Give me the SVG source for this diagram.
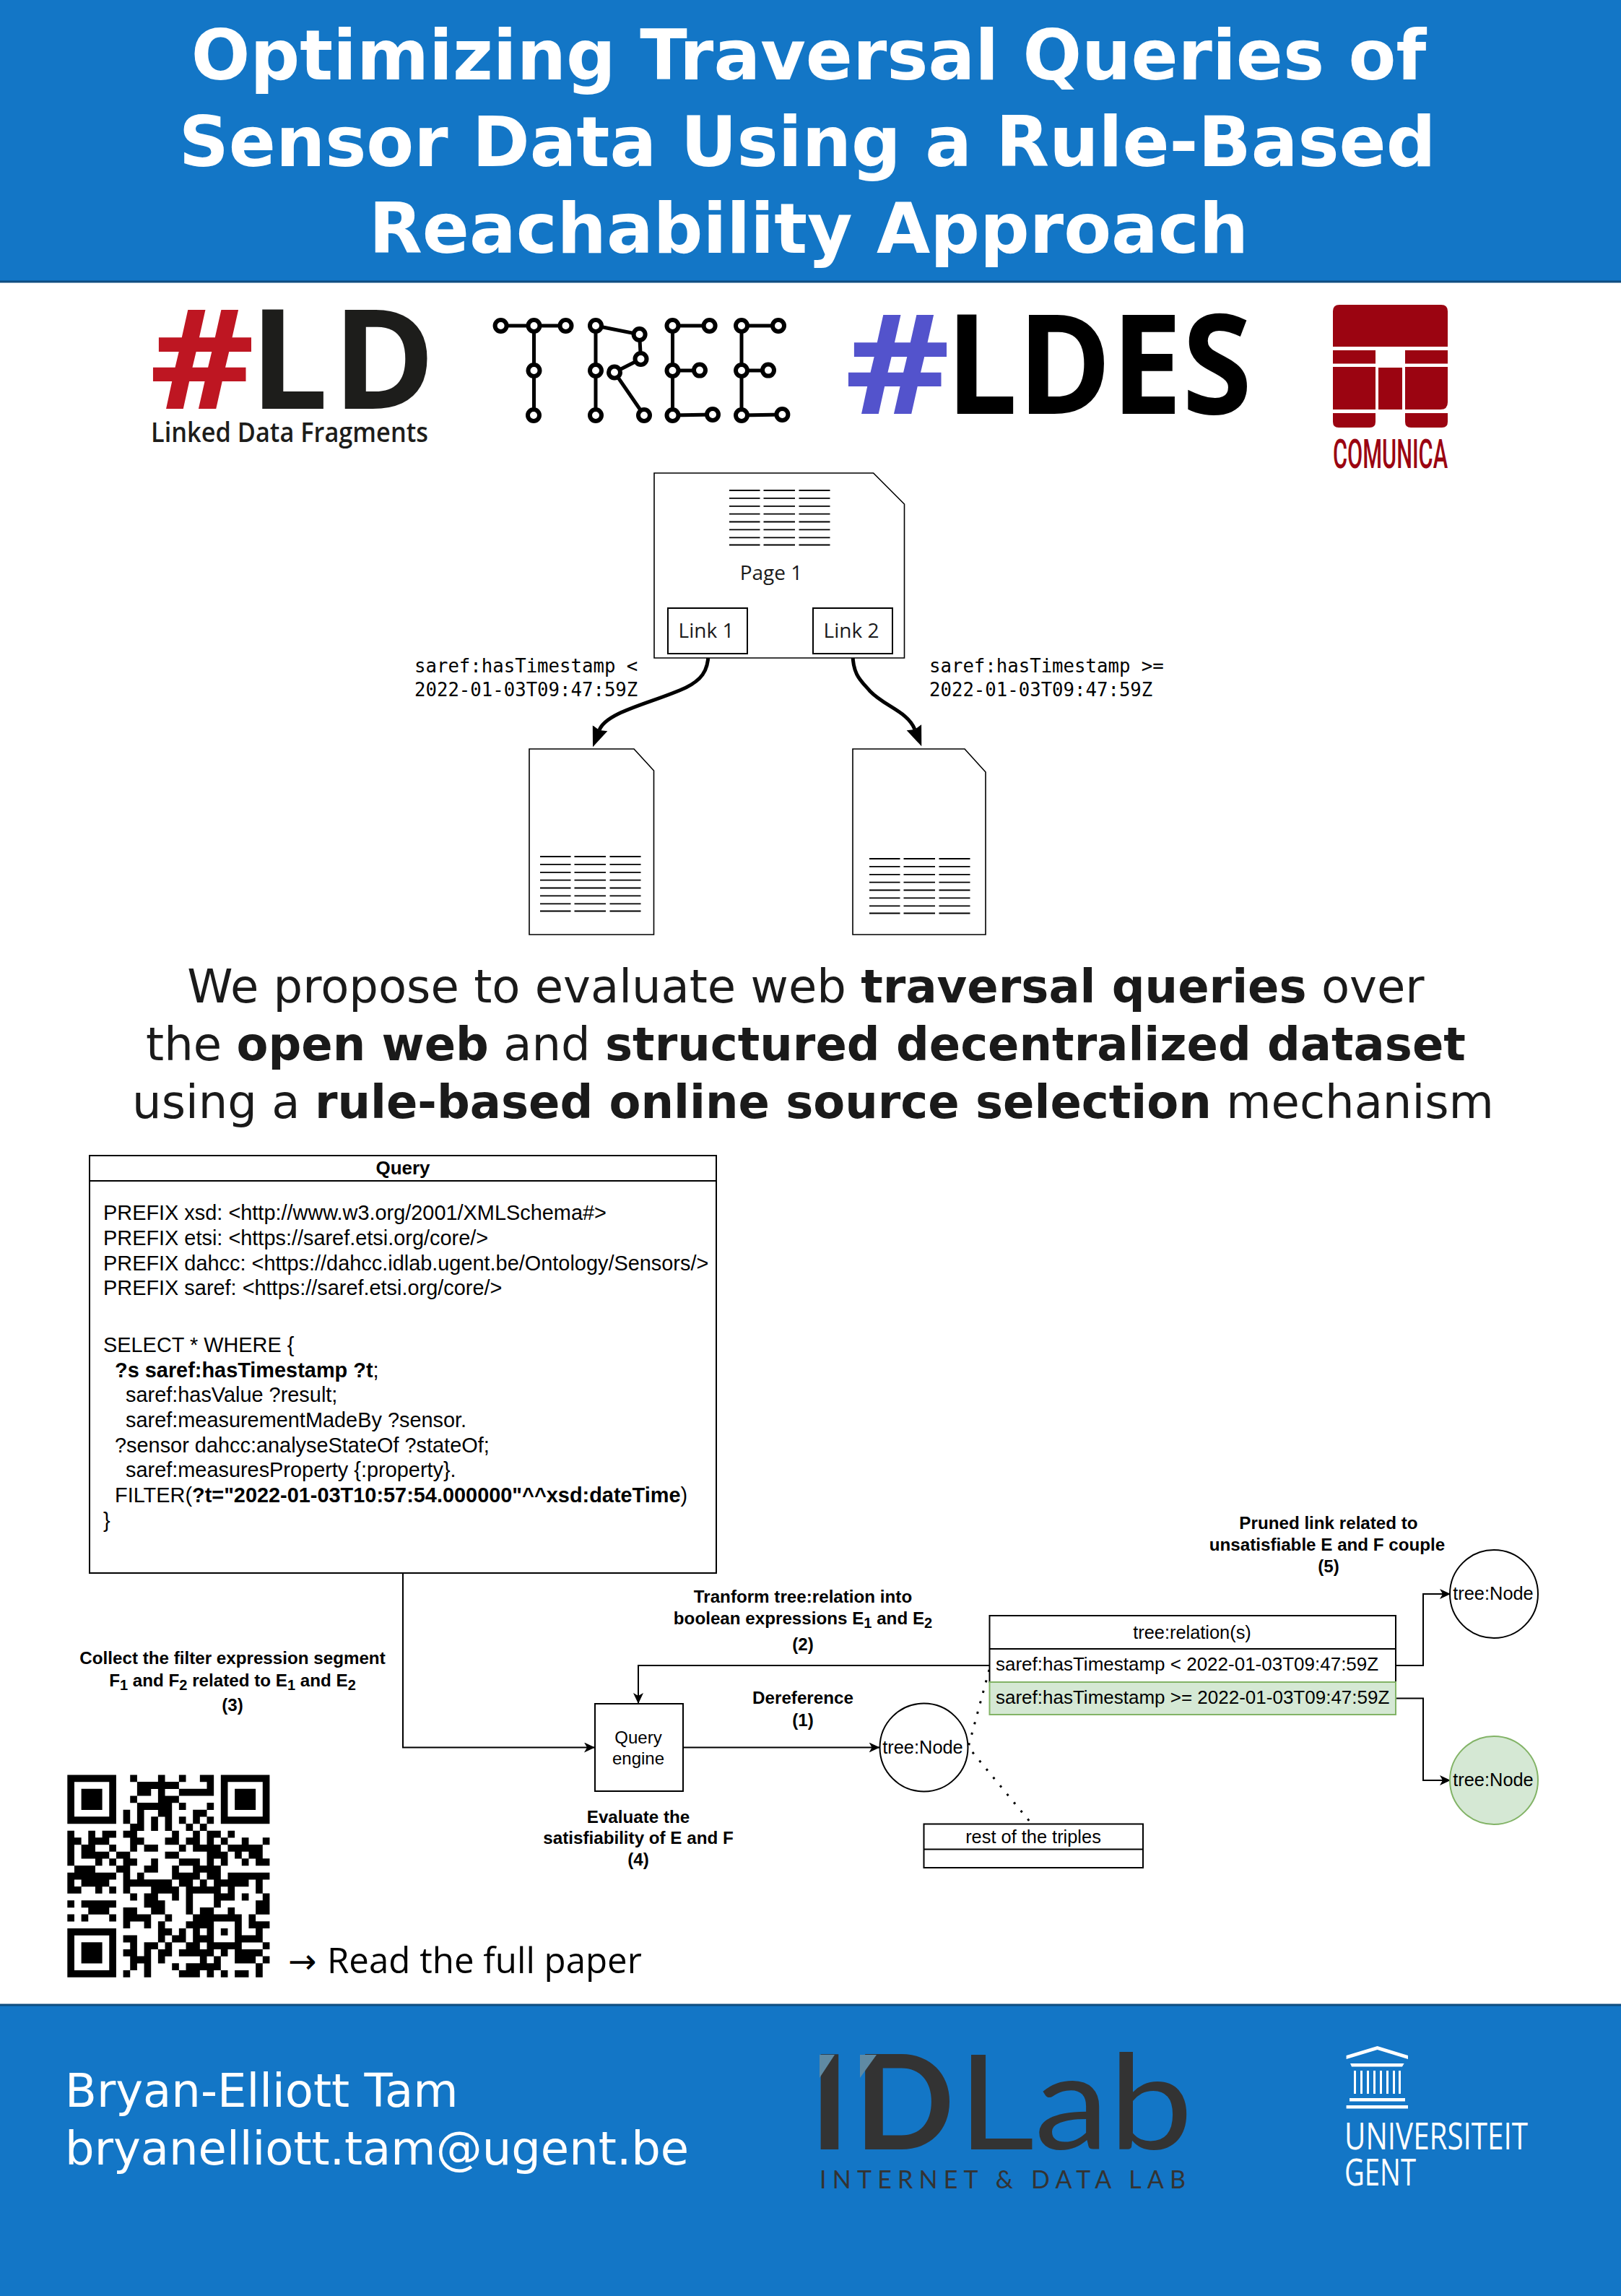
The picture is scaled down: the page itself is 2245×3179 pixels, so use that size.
<svg xmlns="http://www.w3.org/2000/svg" width="2245" height="3179" viewBox="0 0 2245 3179">
<style>
.band{fill:#1376c6;stroke:#0f4d80;stroke-width:3}
.title{font:bold 96px "DejaVu Sans",sans-serif;fill:#fff;text-anchor:middle}
.lead{font:64px "DejaVu Sans",sans-serif;fill:#1a1a1a;text-anchor:middle}
.lead tspan{font-weight:bold}
.foot{font:64px "DejaVu Sans",sans-serif;fill:#fff}
.doc{fill:#fff;stroke:#000;stroke-width:1.600}
.rule{stroke:#000;stroke-width:1.800;fill:none}
.os{font:28px "Open Sans",sans-serif;fill:#1a1a1a}
.mono{font:25.7px "DejaVu Sans Mono",monospace;fill:#000}
.s{font:28.900px "Liberation Sans",sans-serif;fill:#000}
.lab{font:bold 24.200px "Liberation Sans",sans-serif;fill:#000;text-anchor:middle}
.n{font:25.400px "Liberation Sans",sans-serif;fill:#000;text-anchor:middle}
.box{fill:#fff;stroke:#000;stroke-width:2}
.green{fill:#d5e8d4;stroke:#82b366;stroke-width:2}
.edge{fill:none;stroke:#000;stroke-width:2}
.thick{fill:none;stroke:#000;stroke-width:5}
.tree{fill:none;stroke:#000;stroke-width:5}
.ub{font:700 192px "Open Sans",sans-serif;fill:#1d1d1b}
.cm{fill:#9b0411}
</style>
<defs>
<marker id="a" markerUnits="userSpaceOnUse" markerWidth="15" markerHeight="14" refX="15" refY="7" orient="auto"><path d="M0 0L15 7L0 14L4 7Z" fill="#000"/></marker>
<marker id="b" markerUnits="userSpaceOnUse" markerWidth="30" markerHeight="24" refX="3" refY="12" orient="auto"><path d="M0 1L28 12L0 23L3 12Z" fill="#000"/></marker>
<path id="ls" d="M0 0h42.500M47.500 0h43.500M96.500 0h43M0 10.900h42.500M47.500 10.900h43.500M96.500 10.900h43M0 21.800h42.500M47.500 21.800h43.500M96.500 21.800h43M0 32.700h42.500M47.500 32.700h43.500M96.500 32.700h43M0 43.500h42.500M47.500 43.500h43.500M96.500 43.500h43M0 54.400h42.500M47.500 54.400h43.500M96.500 54.400h43M0 65.300h42.500M47.500 65.300h43.500M96.500 65.300h43M0 75.500h42.500M47.500 75.500h43.500M96.500 75.500h43" class="rule"/>
</defs>
<rect width="2245" height="3179" fill="#fff"/>

<g id="header">
<rect class="band" x="-3" y="-3" width="2251" height="393"/>
<text class="title" x="1120" y="110">Optimizing Traversal Queries of</text>
<text class="title" x="1118" y="230">Sensor Data Using a Rule-Based</text>
<text class="title" x="1120" y="350">Reachability Approach</text>
</g>

<g id="logo-ld">
<text x="207" y="566" class="ub" style="fill:#be1622" textLength="146" lengthAdjust="spacingAndGlyphs">#</text>
<text x="346" y="566" class="ub" letter-spacing="6">LD</text>
<text x="209" y="612" font-family="Open Sans" font-weight="600" font-size="37" fill="#1d1d1b" textLength="384" lengthAdjust="spacingAndGlyphs">Linked Data Fragments</text>
</g>

<g id="logo-tree">
<path class="tree" d="M693.600 451H783.500M739.500 451V575M825 451V575M825 451L885.600 463L887.500 497L851 515.500L892 575M931.500 451H982.600M931.500 513H969M931.500 575L987 574M931.500 451V575M1027 451H1078M1027 513H1064M1027 575L1083.400 574M1027 451V575"/>
<g fill="#fff" stroke="#000" stroke-width="6">
<circle cx="693.600" cy="451" r="8"/><circle cx="739.500" cy="451" r="8"/><circle cx="783.500" cy="451" r="8"/><circle cx="739.500" cy="513" r="8"/><circle cx="739" cy="575" r="8"/>
<circle cx="825" cy="451" r="8"/><circle cx="885.600" cy="463" r="8"/><circle cx="887.500" cy="497" r="8"/><circle cx="851" cy="515.500" r="8"/><circle cx="825" cy="513" r="8"/><circle cx="825" cy="575" r="8"/><circle cx="892" cy="575" r="8"/>
<circle cx="931.500" cy="451" r="8"/><circle cx="982.600" cy="451" r="8"/><circle cx="931.500" cy="513" r="8"/><circle cx="969" cy="512.600" r="8"/><circle cx="931.500" cy="575" r="8"/><circle cx="987" cy="574" r="8"/>
<circle cx="1027" cy="451" r="8"/><circle cx="1078" cy="451" r="8"/><circle cx="1027" cy="513" r="8"/><circle cx="1064" cy="512.600" r="8"/><circle cx="1027" cy="575" r="8"/><circle cx="1083.400" cy="574" r="8"/>
</g>
</g>

<g id="logo-ldes">
<text x="1170" y="573" class="ub" style="fill:#5353cc" textLength="146" lengthAdjust="spacingAndGlyphs">#</text>
<text x="1310" y="573" class="ub" style="fill:#000" textLength="424" lengthAdjust="spacingAndGlyphs">LDES</text>
</g>

<g id="logo-comunica">
<path class="cm" d="M1846 480V431q0-9 9-9H1996q9 0 9 9V480ZM1846 485H1905V503.500H1846ZM1946 485H2005V503.500H1946ZM1846 508H1905V567H1846ZM1909 509H1942V567H1909ZM1946 508H2005V557q0 10-10 10H1946ZM1846 572H1905V584q0 8-8 8H1854q-8 0-8-8ZM1946 572H2005V584q0 8-8 8H1954q-8 0-8-8Z"/>
<text x="1846" y="648" font-family="Roboto" font-weight="500" font-size="55" fill="#9b0411" textLength="159" lengthAdjust="spacingAndGlyphs">COMUNICA</text>
</g>

<g id="connectors-top">
<path class="thick" d="M981 905C981 930 970 942 950 952C905 973 840 985 830 1011" marker-end="url(#b)"/>
<path class="thick" d="M1181 905C1181 935 1193 943 1205 957C1225 978 1257 985 1267 1010" marker-end="url(#b)"/>
</g>

<g id="page1">
<path class="doc" d="M906 655H1209.600L1252.500 698V911H906Z"/>
<use href="#ls" x="1010" y="679"/>
<text class="os" x="1068" y="803" text-anchor="middle">Page 1</text>
<rect class="box" x="925" y="842" width="110" height="63"/>
<text class="os" x="978" y="883" text-anchor="middle">Link 1</text>
<rect class="box" x="1126" y="842" width="110" height="63"/>
<text class="os" x="1179" y="883" text-anchor="middle">Link 2</text>
</g>
<g id="page-left">
<path class="doc" d="M733 1037H878L905.500 1067V1294H733Z"/>
<use href="#ls" x="748" y="1186"/>
</g>
<g id="page-right">
<path class="doc" d="M1181 1037H1336L1365 1069V1294H1181Z"/>
<use href="#ls" x="1204" y="1189"/>
</g>
<g id="link-labels">
<text class="mono" x="574" y="931">saref:hasTimestamp &lt;</text>
<text class="mono" x="574" y="964">2022-01-03T09:47:59Z</text>
<text class="mono" x="1287" y="931">saref:hasTimestamp &gt;=</text>
<text class="mono" x="1287" y="964">2022-01-03T09:47:59Z</text>
</g>

<g id="lead">
<text class="lead" x="1116" y="1388">We propose to evaluate web <tspan>traversal queries</tspan> over</text>
<text class="lead" x="1116" y="1468">the <tspan>open web</tspan> and <tspan>structured decentralized dataset</tspan></text>
<text class="lead" x="1126" y="1548">using a <tspan>rule-based online source selection</tspan> mechanism</text>
</g>

<g id="connectors">
<path class="edge" d="M558 2178V2419.500H824" marker-end="url(#a)"/>
<path class="edge" d="M946 2419.500H1218.500" marker-end="url(#a)"/>
<path class="edge" d="M1370.500 2306H884V2359" marker-end="url(#a)"/>
<path class="edge" d="M1933 2306H1971V2207H2009" marker-end="url(#a)"/>
<path class="edge" d="M1933 2351.500H1971V2465H2009" marker-end="url(#a)"/>
<path d="M1370 2312L1341 2419L1428.600 2525" fill="none" stroke="#000" stroke-width="3" stroke-dasharray="3 12"/>
</g>

<g id="query">
<rect class="box" x="124" y="1600" width="868" height="578"/>
<path class="rule" d="M124 1635H992"/>
<text x="558" y="1626" font-family="Liberation Sans" font-weight="700" font-size="26" text-anchor="middle">Query</text>
<text class="s" x="143" y="1689">PREFIX xsd: &lt;http://www.w3.org/2001/XMLSchema#&gt;</text>
<text class="s" x="143" y="1724">PREFIX etsi: &lt;https://saref.etsi.org/core/&gt;</text>
<text class="s" x="143" y="1759">PREFIX dahcc: &lt;https://dahcc.idlab.ugent.be/Ontology/Sensors/&gt;</text>
<text class="s" x="143" y="1793">PREFIX saref: &lt;https://saref.etsi.org/core/&gt;</text>
<text class="s" x="143" y="1872">SELECT * WHERE {</text>
<text class="s" x="159" y="1907"><tspan font-weight="700">?s saref:hasTimestamp ?t</tspan>;</text>
<text class="s" x="174" y="1941">saref:hasValue ?result;</text>
<text class="s" x="174" y="1976">saref:measurementMadeBy ?sensor.</text>
<text class="s" x="159" y="2011">?sensor dahcc:analyseStateOf ?stateOf;</text>
<text class="s" x="174" y="2045">saref:measuresProperty {:property}.</text>
<text class="s" x="159" y="2080">FILTER(<tspan font-weight="700">?t="2022-01-03T10:57:54.000000"^^xsd:dateTime</tspan>)</text>
<text class="s" x="143" y="2115">}</text>
</g>

<g id="query-engine">
<rect class="box" x="824" y="2359" width="122" height="121"/>
<text x="884" y="2414" font-family="Liberation Sans" font-size="24" text-anchor="middle">Query</text>
<text x="884" y="2443" font-family="Liberation Sans" font-size="24" text-anchor="middle">engine</text>
</g>
<g id="node-main">
<circle class="box" cx="1279.500" cy="2419.500" r="61"/>
<text class="n" x="1278" y="2428">tree:Node</text>
</g>
<g id="relations">
<rect class="box" x="1370.500" y="2237" width="562.500" height="92"/>
<path class="rule" d="M1370.500 2283H1933"/>
<text class="n" x="1651" y="2269">tree:relation(s)</text>
<text x="1379" y="2313" font-family="Liberation Sans" font-size="26">saref:hasTimestamp &lt; 2022-01-03T09:47:59Z</text>
<rect class="green" x="1370.500" y="2329" width="562.500" height="45"/>
<text x="1379" y="2359" font-family="Liberation Sans" font-size="26">saref:hasTimestamp &gt;= 2022-01-03T09:47:59Z</text>
</g>
<g id="node-pruned">
<circle class="box" cx="2069" cy="2207" r="61"/>
<text class="n" x="2068" y="2215">tree:Node</text>
</g>
<g id="node-kept">
<circle class="green" cx="2069" cy="2465" r="61"/>
<text class="n" x="2068" y="2473">tree:Node</text>
</g>
<g id="triples">
<rect class="box" x="1279.500" y="2525.500" width="303.500" height="60.500"/>
<path class="rule" d="M1279.500 2560.500H1583"/>
<text class="n" x="1431" y="2552">rest of the triples</text>
</g>

<g id="labels">
<text class="lab" x="1840" y="2117">Pruned link related to</text>
<text class="lab" x="1838" y="2147">unsatisfiable E and F couple</text>
<text class="lab" x="1840" y="2177">(5)</text>
<text class="lab" x="1112" y="2219">Tranform tree:relation into</text>
<text class="lab" x="1112" y="2249">boolean expressions E<tspan font-size="20" dy="5">1</tspan><tspan dy="-5"> and E</tspan><tspan font-size="20" dy="5">2</tspan></text>
<text class="lab" x="1112" y="2285">(2)</text>
<text class="lab" x="1112" y="2359">Dereference</text>
<text class="lab" x="1112" y="2390">(1)</text>
<text class="lab" x="884" y="2524">Evaluate the</text>
<text class="lab" x="884" y="2553">satisfiability of E and F</text>
<text class="lab" x="884" y="2583">(4)</text>
<text class="lab" x="322" y="2304">Collect the filter expression segment</text>
<text class="lab" x="322" y="2335">F<tspan font-size="20" dy="5">1</tspan><tspan dy="-5"> and F</tspan><tspan font-size="20" dy="5">2</tspan><tspan dy="-5"> related to E</tspan><tspan font-size="20" dy="5">1</tspan><tspan dy="-5"> and E</tspan><tspan font-size="20" dy="5">2</tspan></text>
<text class="lab" x="322" y="2369">(3)</text>
</g>

<g id="qr" transform="translate(93.300 2457.500) scale(9.66)">
<path fill="none" stroke="#000" stroke-width="1.02" d="M0 .5h7M9 .5h1M13 .5h1M16 .5h1M19 .5h2M22 .5h7
M0 1.500h1M6 1.500h1M10 1.500h6M20 1.500h1M22 1.500h1M28 1.500h1
M0 2.500h1M2 2.500h3M6 2.500h1M10 2.500h2M13 2.500h1M16 2.500h5M22 2.500h1M24 2.500h3M28 2.500h1
M0 3.500h1M2 3.500h3M6 3.500h1M9 3.500h1M13 3.500h3M22 3.500h1M24 3.500h3M28 3.500h1
M0 4.500h1M2 4.500h3M6 4.500h1M10 4.500h5M16 4.500h1M20 4.500h1M22 4.500h1M24 4.500h3M28 4.500h1
M0 5.500h1M6 5.500h1M8 5.500h1M10 5.500h1M13 5.500h2M18 5.500h2M22 5.500h1M28 5.500h1
M0 6.500h7M8 6.500h1M10 6.500h1M12 6.500h1M14 6.500h1M16 6.500h1M18 6.500h1M20 6.500h1M22 6.500h7
M9 7.500h2M12 7.500h1M14 7.500h1M17 7.500h1M19 7.500h1
M0 8.500h1M3 8.500h1M5 8.500h2M8 8.500h2M15 8.500h1M18 8.500h1M20 8.500h2M23 8.500h1
M0 9.500h2M3 9.500h3M9 9.500h2M14 9.500h2M17 9.500h2M20 9.500h1M22 9.500h1M25 9.500h1M28 9.500h1
M0 10.500h1M2 10.500h2M6 10.500h1M9 10.500h1M11 10.500h2M16 10.500h1M18 10.500h4M23 10.500h5
M0 11.500h1M2 11.500h4M7 11.500h2M14 11.500h2M20 11.500h3M24 11.500h1M26 11.500h2
M0 12.500h1M4 12.500h1M6 12.500h1M8 12.500h2M12 12.500h1M16 12.500h3M20 12.500h1M22 12.500h1M25 12.500h1M27 12.500h2
M1 13.500h3M7 13.500h2M11 13.500h2M15 13.500h1M18 13.500h4
M0 14.500h7M8 14.500h1M10 14.500h1M15 14.500h4M20 14.500h2M23 14.500h6
M0 15.500h1M2 15.500h4M8 15.500h7M16 15.500h2M19 15.500h1M21 15.500h5M27 15.500h1
M0 16.500h2M4 16.500h1M6 16.500h1M8 16.500h1M12 16.500h4M17 16.500h5M23 16.500h1M27 16.500h1
M9 17.500h1M11 17.500h2M15 17.500h1M17 17.500h1M21 17.500h3M25 17.500h1M28 17.500h1
M0 18.500h1M2 18.500h5M11 18.500h3M17 18.500h1M21 18.500h1M27 18.500h2
M3 19.500h3M8 19.500h2M12 19.500h2M17 19.500h1M19 19.500h2M23 19.500h1M27 19.500h2
M0 20.500h1M2 20.500h1M6 20.500h1M8 20.500h4M14 20.500h1M18 20.500h7M26 20.500h1
M8 21.500h1M11 21.500h1M13 21.500h1M17 21.500h4M24 21.500h1M26 21.500h3
M0 22.500h7M13 22.500h2M16 22.500h1M18 22.500h1M20 22.500h1M22 22.500h1M24 22.500h1M27 22.500h1
M0 23.500h1M6 23.500h1M8 23.500h2M13 23.500h1M15 23.500h2M18 23.500h3M24 23.500h4
M0 24.500h1M2 24.500h3M6 24.500h1M9 24.500h1M11 24.500h2M14 24.500h1M17 24.500h2M20 24.500h5M28 24.500h1
M0 25.500h1M2 25.500h3M6 25.500h1M8 25.500h2M11 25.500h1M13 25.500h2M16 25.500h5M22 25.500h1M24 25.500h4
M0 26.500h1M2 26.500h3M6 26.500h1M9 26.500h3M13 26.500h1M19 26.500h1M21 26.500h1M24 26.500h3M28 26.500h1
M0 27.500h1M6 27.500h1M9 27.500h1M11 27.500h1M15 27.500h1M17 27.500h5M27 27.500h1
M0 28.500h7M8 28.500h1M11 28.500h1M16 28.500h3M20 28.500h1M22 28.500h1M24 28.500h2M27 28.500h1"/>
</g>
<text id="qr-caption" y="2732" font-family="Open Sans" font-size="49.200" fill="#000"><tspan x="399" font-family="DejaVu Sans" font-size="47">→</tspan><tspan x="453">Read the full paper</tspan></text>

<g id="footer">
<rect class="band" x="-3" y="2776" width="2251" height="406"/>
<text class="foot" x="90" y="2917">Bryan-Elliott Tam</text>
<text class="foot" x="90" y="2997">bryanelliott.tam@ugent.be</text>
</g>
<g id="logo-idlab" fill="#333">
<text x="1122" y="2976" font-family="Lato" font-weight="700" font-size="182" textLength="200" lengthAdjust="spacing">ID</text>
<text x="1326" y="2976" font-family="Lato" font-size="182" textLength="326" lengthAdjust="spacingAndGlyphs">Lab</text>
<path fill="#5f8aa3" d="M1135 2845H1156L1135 2877ZM1191 2845H1214L1191 2877Z"/>
<text x="1135" y="3030" font-family="Lato" font-size="34" textLength="507">INTERNET &amp; DATA LAB</text>
</g>
<g id="logo-ugent" fill="#fff">
<path d="M1864.600 2846L1907.600 2833L1950 2846V2851L1907.600 2838L1864.600 2851Z"/>
<path d="M1870 2857H1944.600L1942 2861.600H1872Z"/>
<path d="M1875 2867h3v32h-3zM1884 2867h3v32h-3zM1893 2867h3v32h-3zM1902 2867h3v32h-3zM1911 2867h3v32h-3zM1920 2867h3v32h-3zM1929 2867h3v32h-3zM1937 2867h3v32h-3z"/>
<path d="M1869 2905H1946V2909.500H1869ZM1864.600 2915H1950V2919.600H1864.600Z"/>
<text x="1862" y="2976" font-family="Open Sans" font-size="52" textLength="254" lengthAdjust="spacingAndGlyphs">UNIVERSITEIT</text>
<text x="1862" y="3026" font-family="Open Sans" font-size="52" textLength="99" lengthAdjust="spacingAndGlyphs">GENT</text>
</g>
</svg>
